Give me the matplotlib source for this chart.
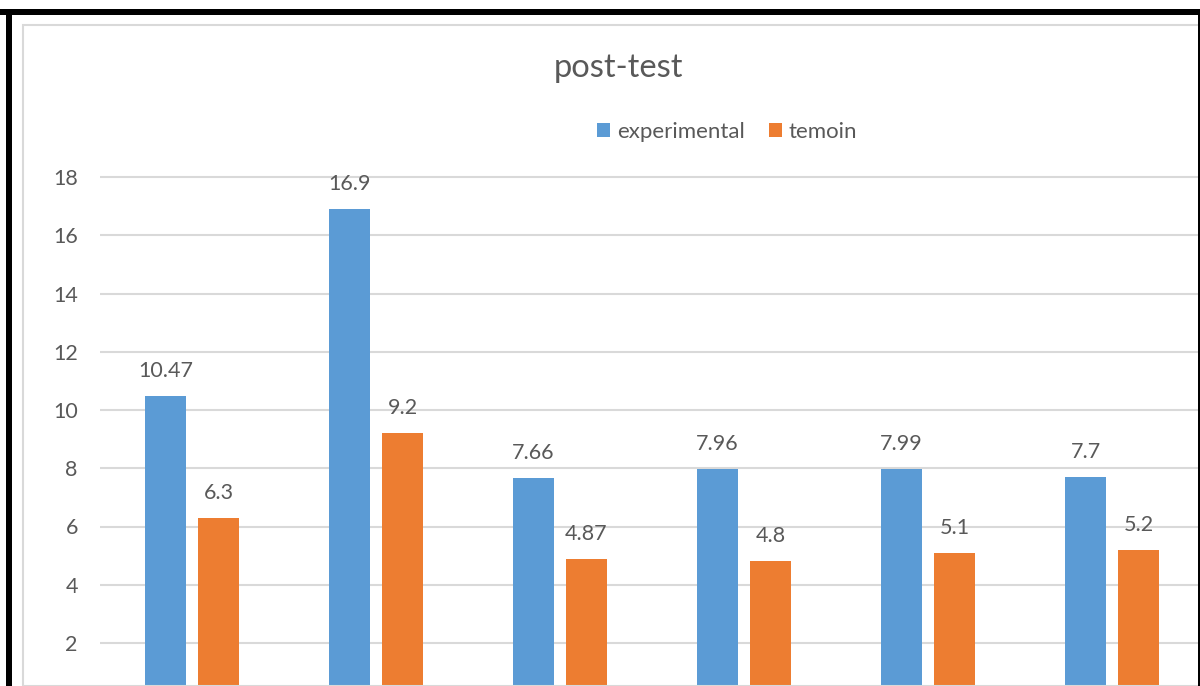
import matplotlib.pyplot as plt
from matplotlib.patches import Rectangle
import numpy as np

# chart values
series_names = ['experimental', 'temoin']
experimental = [10.47, 16.9, 7.66, 7.96, 7.99, 7.7]
temoin = [6.3, 9.2, 4.87, 4.8, 5.1, 5.2]
y_ticks = [0, 2, 4, 6, 8, 10, 12, 14, 16, 18]

BLUE = '#5B9BD5'
ORANGE = '#ED7D31'
TEXT = '#595959'
GRID = '#D9D9D9'

plt.rcParams['font.family'] = ['Lato', 'DejaVu Sans']

W, H = 1200, 686
fig = plt.figure(figsize=(W / 100, H / 100), dpi=100)


def fx(px):
    return px / W


def fy(py):
    return 1 - py / H


# plot area: 6 categories of 184 px starting at x=100, value 18 at y=177, 2 at y=643
px_per_unit = (643 - 177) / 16.0
y_top = 18.6
y_bot = 18 - (H - 177) / px_per_unit
top_px = 177 - (y_top - 18) * px_per_unit
ax = fig.add_axes([fx(100), 0, 1104 / W, (H - top_px) / H])

x = np.arange(len(experimental))
bw = 41 / 184
off = 26.5 / 184
b1 = ax.bar(x - off, experimental, bw, color=BLUE, label=series_names[0], zorder=2)
b2 = ax.bar(x + off, temoin, bw, color=ORANGE, label=series_names[1], zorder=2)

for bars, vals in ((b1, experimental), (b2, temoin)):
    for rect, v in zip(bars, vals):
        ax.annotate(str(v), (rect.get_x() + rect.get_width() / 2, v),
                    xytext=(0, 13.7), textcoords='offset points',
                    ha='center', va='baseline', fontsize=15.5, color=TEXT)

ax.set_yticks(y_ticks)
ax.set_xticks([])
ax.set_xlim(-0.5, len(x) - 0.5)
ax.set_ylim(y_bot, y_top)
ax.grid(axis='y', color=GRID, linewidth=1.5, zorder=0)
ax.tick_params(axis='y', length=0, pad=16, labelsize=15.5, labelcolor=TEXT)
for s in ax.spines.values():
    s.set_visible(False)

ax.legend(loc='center', bbox_to_anchor=(fx(727), fy(132)),
          bbox_transform=fig.transFigure, ncol=2, frameon=False,
          fontsize=16, labelcolor=TEXT, handlelength=0.6, handleheight=0.6,
          handletextpad=0.3, columnspacing=1.1, borderpad=0)

fig.text(fx(618.5), fy(77), 'post-test', ha='center', va='baseline',
         fontsize=23.5, color=TEXT)

# chart frame and outer black border
fig.patches.append(Rectangle((fx(22.5), 0), 1, fy(25) - 0, transform=fig.transFigure,
                             fill=False, edgecolor=GRID, linewidth=1.5))
fig.patches.append(Rectangle((0, fy(15)), 1, 6 / H, transform=fig.transFigure,
                             color='black', linewidth=0))
fig.patches.append(Rectangle((fx(6), 0), 6 / W, fy(9), transform=fig.transFigure,
                             color='black', linewidth=0))
fig.patches.append(Rectangle((fx(1197.5), 0), 3 / W, fy(9), transform=fig.transFigure,
                             color='black', linewidth=0))

fig.savefig('out.png', dpi=100)
plt.close()
